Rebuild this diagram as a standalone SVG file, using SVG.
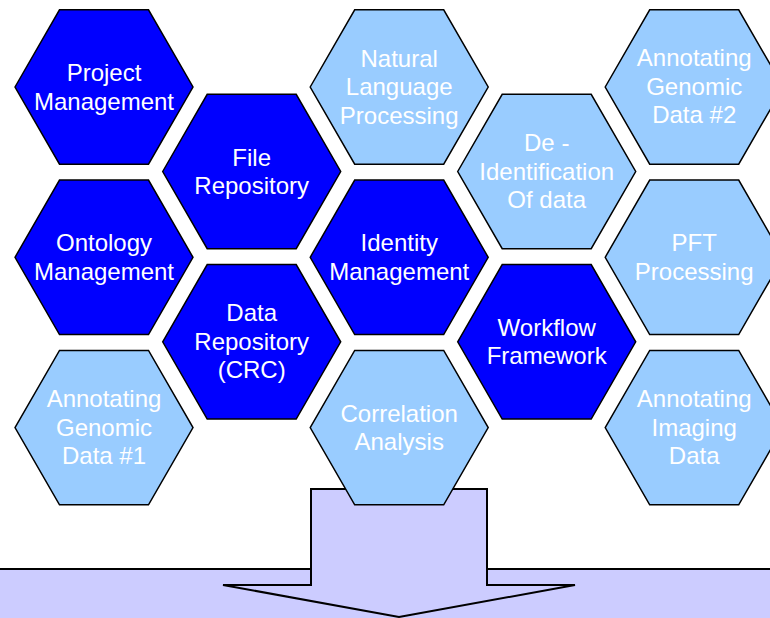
<svg xmlns="http://www.w3.org/2000/svg" xmlns:xlink="http://www.w3.org/1999/xlink" width="770" height="618" viewBox="0 0 770 618">
<style>
.dark{fill:#0000FF;stroke:#000;stroke-width:1.5}
.light{fill:#99CCFF;stroke:#000;stroke-width:1.5}
.lbl{font-family:"Liberation Sans",Arial,sans-serif;font-size:24px;fill:#fff;text-anchor:middle}
.flow{fill:#CCCCFF;stroke:#000;stroke-width:2}
</style>
<defs>
<polygon id="hex" points="-89,0 -44.5,-77.2 44.5,-77.2 89,0 44.5,77.2 -44.5,77.2"/>
</defs>
<rect width="770" height="618" fill="#fff"/>
<g id="connectors">
<rect class="flow" x="-5" y="569" width="780" height="60"/>
<polygon class="flow" points="311,489 487,489 487,585 575,585 399,617 223,585 311,585"/>
</g>
<g id="project-management" transform="translate(104,87)"><use xlink:href="#hex" class="dark"/><text class="lbl"><tspan x="0" y="-6">Project</tspan><tspan x="0" y="22.7">Management</tspan></text></g>
<g id="ontology-management" transform="translate(104,257.3)"><use xlink:href="#hex" class="dark"/><text class="lbl"><tspan x="0" y="-6">Ontology</tspan><tspan x="0" y="22.7">Management</tspan></text></g>
<g id="annotating-genomic-1" transform="translate(104,427.6)"><use xlink:href="#hex" class="light"/><text class="lbl"><tspan x="0" y="-20.5">Annotating</tspan><tspan x="0" y="8">Genomic</tspan><tspan x="0" y="36.5">Data #1</tspan></text></g>
<g id="file-repository" transform="translate(251.7,171.5)"><use xlink:href="#hex" class="dark"/><text class="lbl"><tspan x="0" y="-6">File</tspan><tspan x="0" y="22.7">Repository</tspan></text></g>
<g id="data-repository" transform="translate(251.7,341.8)"><use xlink:href="#hex" class="dark"/><text class="lbl"><tspan x="0" y="-20.5">Data</tspan><tspan x="0" y="8">Repository</tspan><tspan x="0" y="36.5">(CRC)</tspan></text></g>
<g id="natural-language-processing" transform="translate(399.2,87)"><use xlink:href="#hex" class="light"/><text class="lbl"><tspan x="0" y="-20.5">Natural</tspan><tspan x="0" y="8">Language</tspan><tspan x="0" y="36.5">Processing</tspan></text></g>
<g id="identity-management" transform="translate(399.2,257.3)"><use xlink:href="#hex" class="dark"/><text class="lbl"><tspan x="0" y="-6">Identity</tspan><tspan x="0" y="22.7">Management</tspan></text></g>
<g id="correlation-analysis" transform="translate(399.2,427.6)"><use xlink:href="#hex" class="light"/><text class="lbl"><tspan x="0" y="-6">Correlation</tspan><tspan x="0" y="22.7">Analysis</tspan></text></g>
<g id="de-identification" transform="translate(546.7,171.5)"><use xlink:href="#hex" class="light"/><text class="lbl"><tspan x="0" y="-20.5">De -</tspan><tspan x="0" y="8">Identification</tspan><tspan x="0" y="36.5">Of data</tspan></text></g>
<g id="workflow-framework" transform="translate(546.7,341.8)"><use xlink:href="#hex" class="dark"/><text class="lbl"><tspan x="0" y="-6">Workflow</tspan><tspan x="0" y="22.7">Framework</tspan></text></g>
<g id="annotating-genomic-2" transform="translate(694.2,87)"><use xlink:href="#hex" class="light"/><text class="lbl"><tspan x="0" y="-21">Annotating</tspan><tspan x="0" y="7.5">Genomic</tspan><tspan x="0" y="36">Data #2</tspan></text></g>
<g id="pft-processing" transform="translate(694.2,257.3)"><use xlink:href="#hex" class="light"/><text class="lbl"><tspan x="0" y="-6">PFT</tspan><tspan x="0" y="22.7">Processing</tspan></text></g>
<g id="annotating-imaging-data" transform="translate(694.2,427.6)"><use xlink:href="#hex" class="light"/><text class="lbl"><tspan x="0" y="-20.5">Annotating</tspan><tspan x="0" y="8">Imaging</tspan><tspan x="0" y="36.5">Data</tspan></text></g>
</svg>
